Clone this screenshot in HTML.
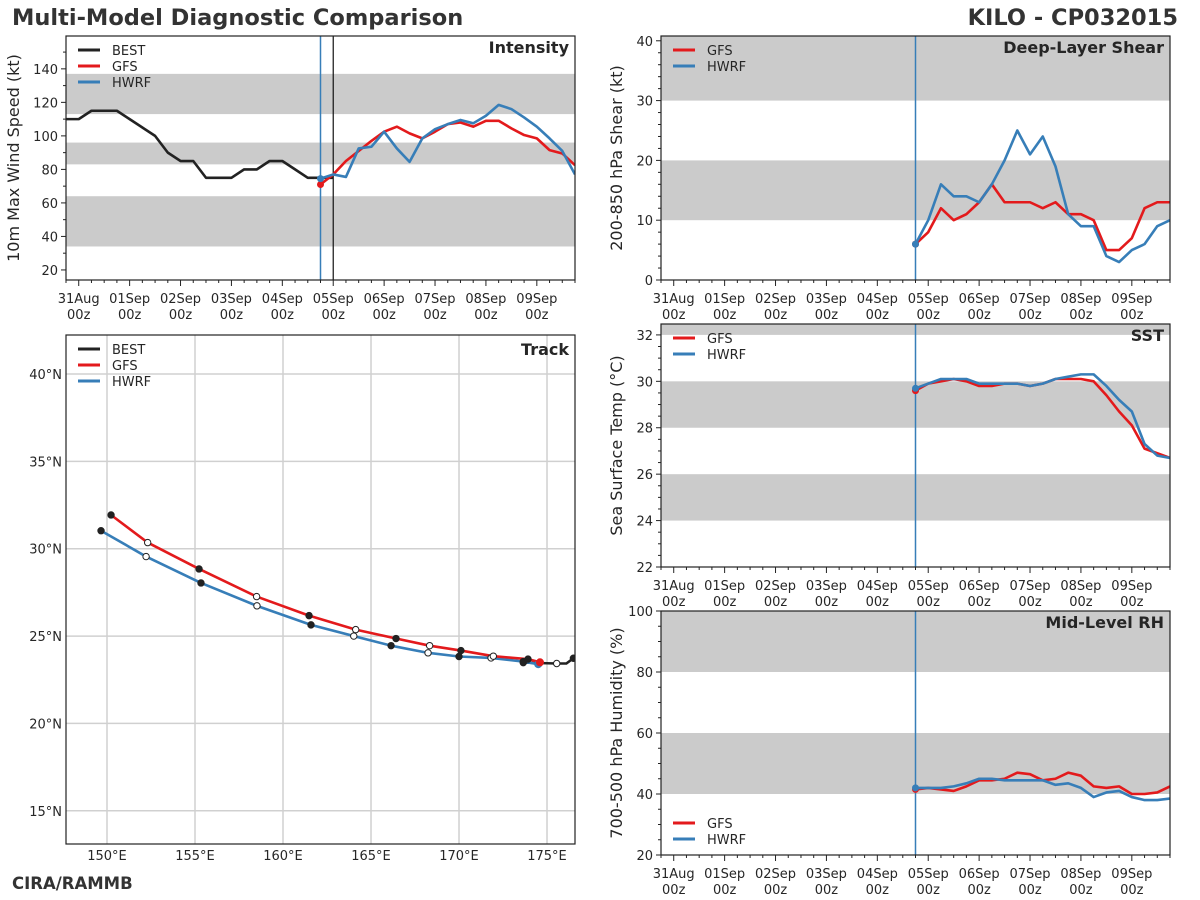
<!DOCTYPE html>
<html><head><meta charset="utf-8"><style>
body{margin:0;background:#fff;}
svg{display:block;font-family:"DejaVu Sans","Liberation Sans",sans-serif;}
</style></head><body>
<svg id="c" width="1200" height="900" xmlns="http://www.w3.org/2000/svg">
<text x="12" y="25" font-size="22.5" font-weight="bold" fill="#333">Multi-Model Diagnostic Comparison</text>
<text x="1178" y="25" font-size="22.5" font-weight="bold" fill="#333" text-anchor="end">KILO - CP032015</text>
<text x="12" y="889" font-size="16.5" font-weight="bold" fill="#333">CIRA/RAMMB</text>
</svg>
<script>
const dayLabels=["31Aug","01Sep","02Sep","03Sep","04Sep","05Sep","06Sep","07Sep","08Sep","09Sep"];
const bestIntensity=[110,110,115,115,115,110,105,100,90,85,85,75,75,75,80,80,85,85,80,75,75,75];
const gfsIntensity=[71,77,85,91,97,102.5,105.5,101.5,98.5,102.5,107,108,105.5,109,109,104.5,100.5,98.5,91.5,89.5,82.5];
const hwrfIntensity=[74.5,77,75.5,92.5,93.5,102.5,92.5,84.5,98.5,104,107,109.5,107.5,112,118.5,116,111,105.5,98.5,91,77];
const gfsShear=[6,8,12,10,11,13,16,13,13,13,12,13,11,11,10,5,5,7,12,13,13];
const hwrfShear=[6,10,16,14,14,13,16,20,25,21,24,19,11,9,9,4,3,5,6,9,10];
const gfsSST=[29.6,29.9,30.0,30.1,30.0,29.8,29.8,29.9,29.9,29.8,29.9,30.1,30.1,30.1,30.0,29.4,28.7,28.1,27.1,26.9,26.7];
const hwrfSST=[29.7,29.9,30.1,30.1,30.1,29.9,29.9,29.9,29.9,29.8,29.9,30.1,30.2,30.3,30.3,29.8,29.2,28.7,27.3,26.8,26.7];
const gfsRH=[41.5,42,41.5,41,42.5,44.5,44.5,45,47,46.5,44.5,45,47,46,42.5,42,42.5,40,40,40.5,42.5];
const hwrfRH=[42,42,42,42.5,43.5,45,45,44.5,44.5,44.5,44.5,43,43.5,42,39,40.5,41,39,38,38,38.5];
const gfsTrackLon=[174.6,173.92,171.95,170.11,168.33,166.42,164.13,161.48,158.5,155.23,152.31,150.23];
const gfsTrackLat=[23.5,23.68,23.85,24.17,24.45,24.86,25.37,26.17,27.26,28.84,30.35,31.93];
const hwrfTrackLon=[174.5,173.65,171.82,170.0,168.24,166.14,164.02,161.59,158.52,155.34,152.22,149.66];
const hwrfTrackLat=[23.39,23.54,23.75,23.83,24.04,24.45,25.0,25.64,26.73,28.04,29.55,31.03];
const bestTrackLon=[173.65,175.55,176.1,176.5,177.0];
const bestTrackLat=[23.48,23.43,23.43,23.73,24.2];
const C={BEST:"#222",GFS:"#e31a1c",HWRF:"#377eb8"};
const NS="http://www.w3.org/2000/svg";
const svg=document.getElementById('c');
function el(t,a,p){const e=document.createElementNS(NS,t);for(const k in a)e.setAttribute(k,a[k]);(p||svg).appendChild(e);return e;}
function txt(x,y,s,a,p){const e=el('text',Object.assign({x:x,y:y,'font-size':13,fill:'#262626'},a||{}),p);e.textContent=s;return e;}

function timePanel(o){
  const g=el('g',{});
  
  
  const X=h=>o.x0+(h+6)/240*(o.x1-o.x0);
  const Y=v=>o.y1-(v-o.ymin)/(o.ymax-o.ymin)*(o.y1-o.y0);
  const clipId='cl'+o.name;
  const cp=el('clipPath',{id:clipId},g);el('rect',{x:o.x0,y:o.y0,width:o.x1-o.x0,height:o.y1-o.y0},cp);
  o.bands.forEach(b=>{const r=el('rect',{x:o.x0,y:Y(Math.min(b[1],o.ymax)),width:o.x1-o.x0,height:Y(b[0])-Y(Math.min(b[1],o.ymax)),fill:'#cbcbcb'},g);
    });
  for(let v=o.tmin;v<=o.ymax+1e-6;v+=o.minor){const yy=Y(v);const major=Math.abs((v-o.tmin)/o.major-Math.round((v-o.tmin)/o.major))<1e-6;
    el('line',{x1:o.x0,x2:o.x0-(major?5:3),y1:yy,y2:yy,stroke:'#222','stroke-width':1},g);
    if(major){const t=txt(o.x0-8,yy+5,String(v),{'text-anchor':'end'},g);}}
  for(let h=-6;h<=234;h+=6){const xx=X(h);const major=h%24===0;
    el('line',{x1:xx,x2:xx,y1:o.y1,y2:o.y1+(major?6:3),stroke:'#222','stroke-width':1},g);
    if(major){const d=h/24;const t1=txt(xx,o.y1+23,dayLabels[d],{'text-anchor':'middle'},g);
      const t2=txt(xx,o.y1+39,'00z',{'text-anchor':'middle'},g);}}
  const yl=txt(0,0,o.ylabel,{'font-size':16,'text-anchor':'middle',transform:`translate(${o.ylx},${(o.y0+o.y1)/2}) rotate(-90)`},g);
  
  const pg=el('g',{'clip-path':`url(#${clipId})`},g);
  el('line',{x1:X(114),x2:X(114),y1:o.y0,y2:o.y1,stroke:C.HWRF,'stroke-width':1.5},pg);
  if(o.blackLine)el('line',{x1:X(120),x2:X(120),y1:o.y0,y2:o.y1,stroke:'#111','stroke-width':1.2},pg);
  o.series.forEach(s=>{const pts=s.data.map((v,i)=>X(s.t0+6*i)+','+Y(v)).join(' ');
    const pl=el('polyline',{points:pts,fill:'none',stroke:C[s.key],'stroke-width':2.6,'stroke-linejoin':'round'},pg);
    
    if(s.dot){el('circle',{cx:X(s.t0),cy:Y(s.data[0]),r:3.5,fill:C[s.key]},pg);}});
  el('rect',{x:o.x0,y:o.y0,width:o.x1-o.x0,height:o.y1-o.y0,fill:'none',stroke:'#222','stroke-width':1.2},g);
  const ti=txt(o.x1-6,o.y0+17,o.title,{'text-anchor':'end','font-size':16,'font-weight':'bold'},g);
  
  o.legend.forEach((k,i)=>{const ly=o.ly+i*16;const lg=el('g',{},g);
    
    el('line',{x1:o.x0+12,x2:o.x0+34,y1:ly,y2:ly,stroke:C[k],'stroke-width':3},lg);
    txt(o.x0+46,ly+5,k,{},lg);});
}
timePanel({name:'intensity-panel',x0:66,x1:575,y0:36,y1:280,ymin:14,ymax:159.6,tmin:20,major:20,minor:10,
  bands:[[34,64],[83,96],[113,137]],ylabel:'10m Max Wind Speed (kt)',ylx:19,title:'Intensity',blackLine:true,
  legend:['BEST','GFS','HWRF'],ly:50,
  series:[{key:'BEST',data:bestIntensity,t0:-6},{key:'GFS',data:gfsIntensity,t0:114,dot:true},{key:'HWRF',data:hwrfIntensity,t0:114,dot:true}]});
timePanel({name:'shear-panel',x0:661,x1:1170,y0:36,y1:280,ymin:0,ymax:40.8,tmin:0,major:10,minor:2,
  bands:[[10,20],[30,50]],ylabel:'200-850 hPa Shear (kt)',ylx:622,title:'Deep-Layer Shear',
  legend:['GFS','HWRF'],ly:50,
  series:[{key:'GFS',data:gfsShear,t0:114,dot:true},{key:'HWRF',data:hwrfShear,t0:114,dot:true}]});
timePanel({name:'sst-panel',x0:661,x1:1170,y0:324,y1:567,ymin:22,ymax:32.47,tmin:22,major:2,minor:0.5,
  bands:[[24,26],[28,30],[32,40]],ylabel:'Sea Surface Temp (°C)',ylx:622,title:'SST',
  legend:['GFS','HWRF'],ly:338,
  series:[{key:'GFS',data:gfsSST,t0:114,dot:true},{key:'HWRF',data:hwrfSST,t0:114,dot:true}]});
timePanel({name:'rh-panel',x0:661,x1:1170,y0:611,y1:855,ymin:20,ymax:100,tmin:20,major:20,minor:5,
  bands:[[40,60],[80,100]],ylabel:'700-500 hPa Humidity (%)',ylx:622,title:'Mid-Level RH',
  legend:['GFS','HWRF'],ly:823,
  series:[{key:'GFS',data:gfsRH,t0:114,dot:true},{key:'HWRF',data:hwrfRH,t0:114,dot:true}]});

(function(){
  const o={x0:66,x1:575,y0:335,y1:844,lonMin:147.67,lonMax:176.59,latMin:13.1,latMax:42.23};
  const g=el('g',{});
  
  
  const X=l=>o.x0+(l-o.lonMin)/(o.lonMax-o.lonMin)*(o.x1-o.x0);
  const Y=l=>o.y1-(l-o.latMin)/(o.latMax-o.latMin)*(o.y1-o.y0);
  const cp=el('clipPath',{id:'cltrack'},g);el('rect',{x:o.x0,y:o.y0,width:o.x1-o.x0,height:o.y1-o.y0},cp);
  for(let lon=150;lon<=175;lon+=5){el('line',{x1:X(lon),x2:X(lon),y1:o.y0,y2:o.y1,stroke:'#d0d0d0','stroke-width':1.5},g);
    const t=txt(X(lon),o.y1+16,lon+'°E',{'text-anchor':'middle'},g);}
  for(let lat=15;lat<=40;lat+=5){el('line',{x1:o.x0,x2:o.x1,y1:Y(lat),y2:Y(lat),stroke:'#d0d0d0','stroke-width':1.5},g);
    const t=txt(o.x0-4,Y(lat)+5,lat+'°N',{'text-anchor':'end'},g);}
  const pg=el('g',{'clip-path':'url(#cltrack)'},g);
  const tracks=[['BEST',bestTrackLon,bestTrackLat],['HWRF',hwrfTrackLon,hwrfTrackLat],['GFS',gfsTrackLon,gfsTrackLat]];
  tracks.forEach(([k,lo,la])=>{
    const pl=el('polyline',{points:lo.map((v,i)=>X(v)+','+Y(la[i])).join(' '),fill:'none',stroke:C[k],'stroke-width':2.6,'stroke-linejoin':'round'},pg);
    
  });
  tracks.forEach(([k,lo,la])=>{
    if(k==='BEST'){lo.forEach((v,i)=>{if(i===2||i===4)return;const m=el('circle',{cx:X(v),cy:Y(la[i]),r:3.2,fill:i===1?'#fff':'#222',stroke:'#222','stroke-width':1},pg);
      });return;}
    el('circle',{cx:X(lo[0]),cy:Y(la[0]),r:4,fill:C[k]},pg);
    lo.forEach((v,i)=>{if(i===0)return;const m=el('circle',{cx:X(v),cy:Y(la[i]),r:3.2,fill:(i%2===1)?'#222':'#fff',stroke:'#222','stroke-width':1},pg);
      });
  });
  el('rect',{x:o.x0,y:o.y0,width:o.x1-o.x0,height:o.y1-o.y0,fill:'none',stroke:'#222','stroke-width':1.2},g);
  const ti=txt(o.x1-6,o.y0+20,'Track',{'text-anchor':'end','font-size':16,'font-weight':'bold'},g);
  
  ['BEST','GFS','HWRF'].forEach((k,i)=>{const ly=349+i*16;const lg=el('g',{},g);
    
    el('line',{x1:78,x2:100,y1:ly,y2:ly,stroke:C[k],'stroke-width':3},lg);
    txt(112,ly+5,k,{},lg);});
})();
</script>
</body></html>
